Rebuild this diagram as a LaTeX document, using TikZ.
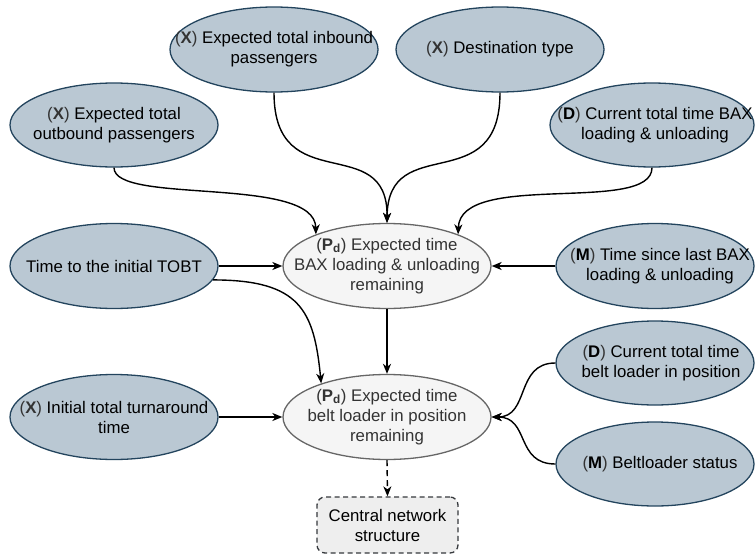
\documentclass[tikz,border=0pt]{standalone}
\usepackage{fontspec}
\setmainfont{Liberation Sans}
\usetikzlibrary{shapes.geometric,arrows.meta}
\definecolor{bfill}{HTML}{BAC8D3}
\definecolor{bdraw}{HTML}{23445D}
\definecolor{gfill}{HTML}{F5F5F5}
\definecolor{gdraw}{HTML}{666666}
\definecolor{gtext}{HTML}{333333}
\definecolor{cfill}{HTML}{EEEEEE}
\definecolor{cdraw}{HTML}{36393D}
\newcommand{\vx}{{\color{gtext}(\textbf{X})}}
\newcommand{\vd}{{\color{gtext}(}\textbf{D}{\color{gtext})}}
\newcommand{\vm}{{\color{gtext}(}\textbf{M}{\color{gtext})}}
\newcommand{\vp}{(\textbf{P\textsubscript{d}})}
\tikzset{
  bnode/.style={ellipse, draw=bdraw, fill=bfill, line width=1.3pt, inner sep=0pt},
  pnode/.style={ellipse, draw=gdraw, fill=gfill, line width=1.3pt, inner sep=0pt},
  txt/.style={align=center, inner sep=0pt, font=\fontsize{16.8}{20}\selectfont, text=black},
  ptxt/.style={txt, text=gtext},
  cbox/.style={draw=cdraw, fill=cfill, line width=1.3pt, rounded corners=8pt, dash pattern=on 5pt off 3.5pt, align=center, font=\fontsize{16.8}{20}\selectfont, text=black},
  arr/.style={line width=1.4pt, -{Stealth[length=10pt,width=8pt,inset=3pt]}},
}
\begin{document}
\begin{tikzpicture}[x=1pt,y=-1pt]
\useasboundingbox (0,0) rectangle (755,554);
% blue nodes
\node[bnode, minimum width=208, minimum height=85] (inb) at (274,49.5) {};
\node[txt] (inbt) at (inb.center) {\vx{} Expected total inbound\\passengers};
\node[bnode, minimum width=208, minimum height=85] (dest) at (500,49.5) {};
\node[txt] (destt) at (dest.center) {\vx{} Destination type};
\node[bnode, minimum width=208, minimum height=84] (outb) at (114,125) {};
\node[txt] (outbt) at (outb.center) {\vx{} Expected total\\outbound passengers};
\node[bnode, minimum width=204, minimum height=84] (dbax) at (652,125) {};
\node[txt] (dbaxt) at ([xshift=3pt]dbax.center) {\vd{} Current total time BAX\\loading \& unloading};
\node[bnode, minimum width=208, minimum height=85] (tobt) at (114,266) {};
\node[txt] (tobtt) at (tobt.center) {Time to the initial TOBT};
\node[bnode, minimum width=198, minimum height=85] (tbax) at (655,266) {};
\node[txt] (tbaxt) at ([xshift=5pt]tbax.center) {\vm{} Time since last BAX\\loading \& unloading};
\node[bnode, minimum width=208, minimum height=85] (itt) at (114,417) {};
\node[txt] (ittt) at (itt.center) {\vx{} Initial total turnaround\\time};
\node[bnode, minimum width=198, minimum height=84] (dbelt) at (655,363) {};
\node[txt] (dbeltt) at ([xshift=6pt]dbelt.center) {\vd{} Current total time\\belt loader in position};
\node[bnode, minimum width=198, minimum height=84] (bls) at (655,464) {};
\node[txt] (blst) at ([xshift=5pt]bls.center) {\vm{} Beltloader status};
% grey nodes
\node[pnode, minimum width=208, minimum height=85] (pdbax) at (387,266) {};
\node[ptxt] (pdbaxt) at (pdbax.center) {\vp{} Expected time\\BAX loading \& unloading\\remaining};
\node[pnode, minimum width=208, minimum height=85] (pdbelt) at (387,417) {};
\node[ptxt] (pdbeltt) at (pdbelt.center) {\vp{} Expected time\\belt loader in position\\remaining};
\node[cbox, minimum width=141, minimum height=56] (cns) at (387.5,525) {Central network\\structure};
% connectors
\draw[arr] (outb.south) .. controls (114,205) and (315,175) .. (pdbax.156);
\draw[arr] (inb.south) .. controls (274,200) and (388,130) .. (pdbax.north);
\draw[arr] (dest.south) .. controls (500,200) and (388,130) .. (pdbax.north);
\draw[arr] (dbax.south) .. controls (652,215) and (460,170) .. (pdbax.24);
\draw[arr] (tobt.east) -- (pdbax.west);
\draw[arr] (tbax.west) -- (pdbax.east);
\draw[arr] (tobt.-8) .. controls (300,280) and (314,310) .. (pdbelt.153);
\draw[arr] (pdbax.south) -- (pdbelt.north);
\draw[arr] (itt.east) -- (pdbelt.west);
\draw[arr] (dbelt.west) .. controls (515,363) and (530,417) .. (pdbelt.east);
\draw[arr] (bls.west) .. controls (515,464) and (530,417) .. (pdbelt.east);
\draw[arr, dash pattern=on 6pt off 4pt] (pdbelt.south) -- (cns.north);
\end{tikzpicture}
\end{document}
